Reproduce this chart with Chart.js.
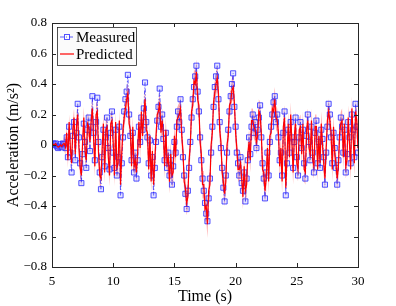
<!DOCTYPE html>
<html>
<head>
<meta charset="utf-8">
<script src="https://cdn.jsdelivr.net/npm/chart.js@4/dist/chart.umd.min.js"></script>
<style>
  html, body { margin: 0; padding: 0; background: #fff; }
  #wrap { width: 396px; height: 306px; }
</style>
</head>
<body>
<div id="wrap"><canvas id="chart" width="396" height="306"></canvas></div>
<script>
// sample times: t = 5 + i*0.1 s
const t0 = 5, dt = 0.1;

const measured = [
  0, 0.01, 0.005, 0.01, -0.01, -0.02, -0.01, 0.005, -0.015, 0.01, 0.005, -0.02,
  0.05, -0.08, 0.12, -0.05, -0.18, 0.06, 0.15, -0.1, 0.08, 0.27,
  0.05, -0.12, -0.25, -0.06, 0.14, 0.02, -0.15, 0.1, 0.18, -0.04,
  0.12, 0.32, 0.08, -0.1, 0.15, 0.31, 0.02, -0.18, -0.29, -0.08,
  0.1, -0.14, 0.05, 0.18, -0.02, -0.16, 0.08, 0.22, -0.05,
  -0.15, 0.1, -0.2, -0.08, 0.12, -0.33, -0.12, 0.05, 0.22, 0.3,
  0.35, 0.46, 0.2, 0.06, -0.1, 0.08, -0.18, -0.05, -0.22, -0.1,
  0.12, 0.02, 0.18, 0.1, 0.24, 0.41, 0.15, 0.05, -0.12, 0.03,
  -0.2, -0.08, -0.33, -0.15, 0.02, 0.16, 0.25, 0.37, 0.12, 0.2,
  0.04, -0.1, 0.08, -0.15, -0.05, -0.2, -0.1, -0.26, -0.14, 0.02,
  -0.05, 0.12, 0.22, 0.15, 0.3, 0.1, -0.08, -0.2, -0.32, -0.42,
  -0.3, -0.15, 0.02, 0.18, 0.3, 0.38, 0.45, 0.52, 0.35, 0.22,
  0.05, -0.1, -0.22, -0.3, -0.38, -0.45, -0.5, -0.35, -0.22, -0.05,
  0.12, 0.25, 0.38, 0.45, 0.52, 0.3, 0.15, -0.02, -0.15, -0.28,
  -0.37, -0.2, -0.05, 0.1, 0.22, 0.32, 0.4, 0.47, 0.25, 0.12,
  -0.05, -0.12, -0.2, -0.08, -0.25, -0.3, -0.18, -0.37, -0.22, -0.1,
  0.05, -0.06, 0.12, 0.2, 0.08, 0.15, -0.02, 0.1, 0.18, 0.26,
  0.05, -0.12, -0.22, -0.35, -0.18, -0.05, -0.2, 0.02, 0.12, 0.2,
  0.28, 0.32, 0.15, 0.2, 0.05, -0.1, -0.05, -0.2, 0.08, 0.22,
  -0.33, -0.12, 0.1, -0.05, 0.15, 0.05, -0.15, 0.02, 0.18, -0.08,
  -0.2, 0.05, 0.15, -0.02, 0.1, -0.12, -0.22, 0.06, 0.2, 0.02,
  -0.1, 0.12, -0.05, -0.18, 0.08, 0.16, -0.12, 0.02, -0.15, 0.1,
  0.04, -0.08, -0.26, -0.05, 0.12, 0.27, 0.2, 0.05, -0.12, 0.08,
  -0.02, -0.15, -0.26, -0.1, 0.05, 0.18, 0.12, -0.05, 0.1, -0.18,
  -0.06, 0.15, 0.05, -0.12, 0.2, 0.1, -0.08, 0.27, 0.12, -0.05
];

const predicted = [
  0, 0.005, 0, 0.01, -0.005, -0.015, -0.01, 0, -0.01, 0.005, 0.01, -0.015,
  0.08, -0.1, 0.15, -0.02, -0.12, 0.1, 0.18, -0.06, 0.12, 0.2,
  -0.02, -0.15, -0.2, 0.02, 0.18, -0.04, -0.1, 0.14, 0.12, 0.02,
  0.16, 0.24, 0.04, -0.14, 0.2, 0.22, -0.05, -0.2, -0.22, -0.02,
  0.14, -0.18, 0.1, 0.12, -0.08, -0.2, 0.14, 0.16, 0.02,
  -0.2, 0.15, -0.15, -0.12, 0.16, -0.26, -0.05, 0.1, 0.18, 0.24,
  0.3, 0.34, 0.14, 0.1, -0.14, 0.12, -0.14, -0.1, -0.18, -0.04,
  0.15, -0.02, 0.22, 0.06, 0.2, 0.3, 0.1, 0.08, -0.16, 0.06,
  -0.24, -0.04, -0.26, -0.1, 0.06, 0.2, 0.22, 0.28, 0.08, 0.16,
  0.08, -0.14, 0.1, -0.12, -0.08, -0.24, -0.06, -0.2, -0.18, 0.06,
  -0.08, 0.16, 0.18, 0.2, 0.24, 0.06, -0.04, -0.24, -0.28, -0.38,
  -0.34, -0.1, 0.0, 0.22, 0.26, 0.42, 0.4, 0.48, 0.3, 0.26,
  0.02, -0.06, -0.26, -0.26, -0.42, -0.4, -0.52, -0.3, -0.26, 0.0,
  0.08, 0.28, 0.34, 0.4, 0.44, 0.34, 0.1, 0.02, -0.18, -0.24,
  -0.32, -0.24, 0.0, 0.06, 0.26, 0.28, 0.36, 0.38, 0.28, 0.08,
  -0.02, -0.16, -0.16, -0.12, -0.22, -0.34, -0.14, -0.3, -0.26, -0.06,
  0.02, -0.1, 0.16, 0.16, 0.12, 0.1, 0.02, 0.06, 0.22, 0.2,
  0.08, -0.16, -0.18, -0.3, -0.22, -0.02, -0.24, 0.06, 0.08, 0.24,
  0.22, 0.3, 0.18, 0.16, 0.08, -0.14, -0.02, -0.24, 0.12, 0.18,
  -0.28, -0.08, 0.14, -0.08, 0.2, 0.02, -0.18, 0.06, 0.14, -0.12,
  -0.16, 0.1, 0.12, -0.06, 0.14, -0.16, -0.18, 0.1, 0.16, -0.02,
  -0.06, 0.16, -0.1, -0.14, 0.12, 0.12, -0.16, 0.06, -0.12, 0.14,
  0.0, -0.12, -0.22, -0.02, 0.16, 0.22, 0.16, 0.08, -0.16, 0.12,
  -0.06, -0.12, -0.22, -0.14, 0.08, 0.14, 0.16, -0.08, 0.14, -0.14,
  -0.1, 0.18, 0.02, -0.16, 0.24, 0.06, -0.12, 0.22, 0.16, -0.02
];

// half-width of the prediction band, one value per 0.5 s block
const bandHalf = [
  0.01, 0.015, 0.05, 0.06, 0.07, 0.07, 0.07, 0.07, 0.07, 0.07,
  0.07, 0.07, 0.07, 0.07, 0.07, 0.07, 0.07, 0.07, 0.08, 0.08,
  0.08, 0.08, 0.08, 0.08, 0.09, 0.09, 0.08, 0.08, 0.08, 0.08,
  0.08, 0.08, 0.08, 0.08, 0.08, 0.08, 0.08, 0.08, 0.08, 0.08,
  0.08, 0.08, 0.08, 0.08, 0.08, 0.08, 0.08, 0.08, 0.08, 0.08, 0.08
];

const xTickValues = [5, 10, 15, 20, 25, 30];
const yTickValues = [-0.8, -0.6, -0.4, -0.2, 0, 0.2, 0.4, 0.6, 0.8];
const yTickLabels = ['\u22120.8', '\u22120.6', '\u22120.4', '\u22120.2', '0', '0.2', '0.4', '0.6', '0.8'];

const FONT = "'Liberation Serif', 'DejaVu Serif', serif";
const AXIS = '#262626';

const pts = arr => arr.map((v, i) => ({ x: t0 + i * dt, y: v }));
const upper = pts(predicted.map((v, i) => v + bandHalf[Math.floor(i / 5)]));
const lower = pts(predicted.map((v, i) => v - bandHalf[Math.floor(i / 5)]));

// box, inward ticks on all four sides, legend
const matlabBox = {
  id: 'matlabBox',
  afterDraw(chart) {
    const { ctx, chartArea: a, scales: { x, y } } = chart;
    ctx.save();
    ctx.strokeStyle = AXIS;
    ctx.lineWidth = 1;
    ctx.strokeRect(a.left + 0.5, a.top + 0.5, a.right - a.left, a.bottom - a.top);
    ctx.beginPath();
    xTickValues.forEach(v => {
      const px = Math.round(x.getPixelForValue(v)) + 0.5;
      ctx.moveTo(px, a.bottom); ctx.lineTo(px, a.bottom - 4);
      ctx.moveTo(px, a.top); ctx.lineTo(px, a.top + 4);
    });
    yTickValues.forEach(v => {
      const py = Math.round(y.getPixelForValue(v)) + 0.5;
      ctx.moveTo(a.left, py); ctx.lineTo(a.left + 4, py);
      ctx.moveTo(a.right, py); ctx.lineTo(a.right - 4, py);
    });
    ctx.stroke();

    // legend
    const lx = a.left + 5, ly = a.top + 4, lw = 79, lh = 38;
    ctx.fillStyle = '#fbfbfb';
    ctx.fillRect(lx, ly, lw, lh);
    ctx.strokeStyle = AXIS;
    ctx.lineWidth = 0.8;
    ctx.strokeRect(lx + 0.5, ly + 0.5, lw, lh);
    const items = chart.data.datasets.filter(d => d.label);
    items.forEach((d, k) => {
      const cy = ly + 10 + k * 17;
      ctx.strokeStyle = d.borderColor;
      ctx.lineWidth = d.borderWidth;
      ctx.setLineDash(d.borderDash || []);
      ctx.beginPath();
      ctx.moveTo(lx + 3, cy); ctx.lineTo(lx + 17, cy);
      ctx.stroke();
      ctx.setLineDash([]);
      if (d.pointRadius) {
        ctx.strokeStyle = d.pointBorderColor;
        ctx.lineWidth = 1;
        ctx.strokeRect(lx + 7.5, cy - 2.5, 5, 5);
      }
      ctx.fillStyle = '#000';
      ctx.font = '15px ' + FONT;
      ctx.textBaseline = 'middle';
      ctx.fillText(d.label, lx + 19, cy + 1);
    });
    ctx.restore();
  }
};

new Chart(document.getElementById('chart'), {
  type: 'line',
  data: {
    datasets: [
      {
        data: upper, fill: '+1', backgroundColor: 'rgba(255,70,70,0.45)',
        borderWidth: 0, pointRadius: 0, order: 4
      },
      {
        data: lower, fill: false,
        borderWidth: 0, pointRadius: 0, order: 3
      },
      {
        label: 'Measured', data: pts(measured),
        borderColor: 'rgba(20,20,255,0.85)', borderWidth: 0.8, borderDash: [4, 2, 1, 2],
        pointStyle: 'rect', pointRadius: 3.6, pointBorderWidth: 1,
        pointBorderColor: 'rgba(40,40,255,0.8)', pointBackgroundColor: 'rgba(150,150,255,0.25)',
        fill: false, order: 2
      },
      {
        label: 'Predicted', data: pts(predicted),
        borderColor: '#ff0000', borderWidth: 1.2,
        pointRadius: 0, fill: false, order: 1
      }
    ]
  },
  options: {
    responsive: false,
    animation: false,
    events: [],
    layout: { padding: { top: 23, right: 38, left: 0, bottom: 0 } },
    plugins: { legend: { display: false }, tooltip: { enabled: false } },
    scales: {
      x: {
        type: 'linear', min: 5, max: 30,
        afterBuildTicks: s => { s.ticks = xTickValues.map(v => ({ value: v })); },
        afterFit: s => { s.height = 39; },
        grid: { display: false, drawTicks: false },
        border: { display: false },
        ticks: { color: '#000', padding: 7, font: { family: FONT, size: 13 }, autoSkip: false, maxRotation: 0 },
        title: { display: true, text: 'Time (s)', color: '#000', font: { family: FONT, size: 16 }, padding: { top: 0, bottom: 0 } }
      },
      y: {
        type: 'linear', min: -0.8, max: 0.8,
        afterBuildTicks: s => { s.ticks = yTickValues.map(v => ({ value: v })); },
        afterFit: s => { s.width = 52; },
        grid: { display: false, drawTicks: false },
        border: { display: false },
        ticks: { color: '#000', padding: 5, font: { family: FONT, size: 13 }, autoSkip: false,
          callback: (v, i) => yTickLabels[i] },
        title: { display: true, text: 'Acceleration (m/s\u00b2)', color: '#000', font: { family: FONT, size: 16 }, padding: { top: 4, bottom: 0 } }
      }
    }
  },
  plugins: [matlabBox]
});
</script>
</body>
</html>
